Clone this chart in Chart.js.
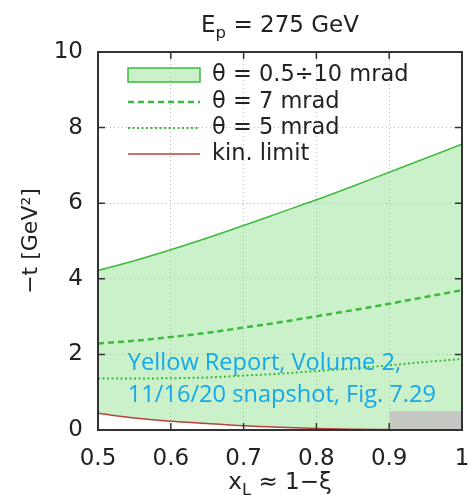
<!DOCTYPE html>
<html>
<head>
<meta charset="utf-8">
<script src="https://cdn.jsdelivr.net/npm/chart.js@4"></script>
<style>
  html, body { margin: 0; padding: 0; background: #fff; }
  #wrap { width: 469px; height: 495px; position: relative; }
</style>
</head>
<body>
<div id="wrap"><canvas id="myChart" width="469" height="495"></canvas></div>
<script>
// x_L points and -t values
const xL        = [0.5, 0.55, 0.6, 0.65, 0.7, 0.75, 0.8, 0.85, 0.9, 0.95, 1.0];
const theta10   = [4.22, 4.48, 4.77, 5.08, 5.41, 5.75, 6.09, 6.45, 6.82, 7.19, 7.56];
const theta7    = [2.29, 2.36, 2.46, 2.57, 2.71, 2.85, 3.01, 3.17, 3.34, 3.52, 3.70];
const theta5    = [1.36, 1.36, 1.37, 1.39, 1.44, 1.49, 1.56, 1.63, 1.71, 1.80, 1.88];
const kinLimit  = [0.44, 0.32, 0.23, 0.17, 0.11, 0.07, 0.04, 0.02, 0.01, 0.00, 0.00];
const greyX     = [0.9, 1.0];
const greyTop   = [0.5, 0.5];
const xTicks    = [0.5, 0.6, 0.7, 0.8, 0.9, 1.0];
const yTicks    = [0, 2, 4, 6, 8, 10];
const legendLabels = ['θ = 0.5÷10 mrad', 'θ = 7 mrad', 'θ = 5 mrad', 'kin. limit'];
const noteLines = ['Yellow Report, Volume 2,', '11/16/20 snapshot, Fig. 7.29'];

const GREEN = '#3dba3d';
const FILL = 'rgba(110,215,110,0.36)';
const RED = '#b8433a';
const FONT = '"DejaVu Sans", sans-serif';

function pts(xs, ys) { return xs.map((v, i) => ({x: v, y: ys[i]})) }

function rich(ctx, parts, cx, cy, size) {
  let w = 0
  parts.forEach(p => {
    ctx.font = (p.sub ? size * 0.72 : size) + 'px ' + FONT
    p.w = ctx.measureText(p.t).width
    w += p.w
  })
  let x = cx - w / 2
  ctx.textAlign = 'left'
  ctx.textBaseline = 'alphabetic'
  parts.forEach(p => {
    ctx.font = (p.sub ? size * 0.72 : size) + 'px ' + FONT
    ctx.fillText(p.t, x, cy + (p.sub ? size * 0.28 : 0))
    x += p.w
  })
}

const decorations = {
  id: 'decorations',
  afterDraw(chart) {
    const {ctx, chartArea: a, scales: {x, y}} = chart
    ctx.save()
    // inward ticks, both sides
    ctx.strokeStyle = '#333'
    ctx.lineWidth = 1.5
    const tl = 7
    xTicks.slice(1, -1).forEach(v => {
      const px = x.getPixelForValue(v)
      ctx.beginPath()
      ctx.moveTo(px, a.bottom); ctx.lineTo(px, a.bottom - tl)
      ctx.moveTo(px, a.top); ctx.lineTo(px, a.top + tl)
      ctx.stroke()
    })
    yTicks.slice(1, -1).forEach(v => {
      const py = y.getPixelForValue(v)
      ctx.beginPath()
      ctx.moveTo(a.left, py); ctx.lineTo(a.left + tl, py)
      ctx.moveTo(a.right, py); ctx.lineTo(a.right - tl, py)
      ctx.stroke()
    })
    // frame
    ctx.lineWidth = 2
    ctx.strokeRect(a.left, a.top, a.right - a.left, a.bottom - a.top)

    // legend
    const lx0 = a.left + 30, lx1 = a.left + 102, tx = a.left + 114
    const rows = [a.top + 23, a.top + 50, a.top + 76, a.top + 102]
    ctx.font = '22.5px ' + FONT
    ctx.textBaseline = 'middle'
    ctx.textAlign = 'left'
    ctx.fillStyle = '#222'
    legendLabels.forEach((t, i) => ctx.fillText(t, tx, rows[i]))
    ctx.fillStyle = FILL
    ctx.fillRect(lx0, rows[0] - 7, lx1 - lx0, 14)
    ctx.strokeStyle = GREEN
    ctx.lineWidth = 1.5
    ctx.strokeRect(lx0, rows[0] - 7, lx1 - lx0, 14)
    const samples = [[rows[1], GREEN, [6, 4], 2.5], [rows[2], GREEN, [2, 2.5], 2], [rows[3], RED, [], 1.5]]
    samples.forEach(s => {
      ctx.beginPath()
      ctx.setLineDash(s[2])
      ctx.strokeStyle = s[1]
      ctx.lineWidth = s[3]
      ctx.moveTo(lx0, s[0]); ctx.lineTo(lx1, s[0])
      ctx.stroke()
    })
    ctx.setLineDash([])

    // title and axis titles
    ctx.fillStyle = '#222'
    rich(ctx, [{t: 'E'}, {t: 'p', sub: 1}, {t: ' = 275 GeV'}], (a.left + a.right) / 2, 32, 23)
    rich(ctx, [{t: 'x'}, {t: 'L', sub: 1}, {t: ' ≈ 1−ξ'}], (a.left + a.right) / 2, 489, 23)
    ctx.save()
    ctx.translate(37, (a.top + a.bottom) / 2)
    ctx.rotate(-Math.PI / 2)
    rich(ctx, [{t: '−t [GeV²]'}], 0, 0, 22)
    ctx.restore()

    // note
    ctx.fillStyle = '#15a8ea'
    ctx.font = '23.6px "Open Sans", sans-serif'
    ctx.textAlign = 'left'
    ctx.textBaseline = 'middle'
    ctx.fillText(noteLines[0], x.getPixelForValue(0.541), y.getPixelForValue(1.77))
    ctx.fillText(noteLines[1], x.getPixelForValue(0.541), y.getPixelForValue(0.93))
    ctx.restore()
  }
}

new Chart(document.getElementById('myChart'), {
  type: 'line',
  data: {
    datasets: [
      {data: pts(xL, theta10), borderColor: GREEN, borderWidth: 1.5, fill: {target: 3}, backgroundColor: FILL, order: 5},
      {data: pts(xL, theta7), borderColor: GREEN, borderWidth: 2.5, borderDash: [6, 4], fill: false, order: 4},
      {data: pts(xL, theta5), borderColor: GREEN, borderWidth: 2, borderDash: [2, 2.5], fill: false, order: 3},
      {data: pts(xL, kinLimit), borderColor: RED, borderWidth: 1.5, fill: false, order: 2},
      {data: pts(greyX, greyTop), borderWidth: 0, borderColor: 'rgba(0,0,0,0)', backgroundColor: '#c6c9c3', fill: 'origin', order: 1}
    ]
  },
  options: {
    responsive: false,
    animation: false,
    layout: {padding: {top: 52, right: 7, left: 0, bottom: 0}},
    elements: {point: {radius: 0}, line: {cubicInterpolationMode: 'monotone'}},
    plugins: {legend: {display: false}, tooltip: {enabled: false}, title: {display: false}},
    scales: {
      x: {
        type: 'linear', min: 0.5, max: 1.0,
        afterFit(s) { s.height = 65; s.paddingLeft = 0; s.paddingRight = 0 },
        afterBuildTicks(s) { s.ticks = xTicks.map(v => ({value: v})) },
        ticks: {font: {size: 23, family: FONT}, color: '#222', padding: 15, maxRotation: 0,
          callback: v => String(Math.round(v * 10) / 10)},
        grid: {color: '#bbb', lineWidth: 1, drawTicks: false},
        border: {display: false, dash: [1, 3]}
      },
      y: {
        min: 0, max: 10,
        afterFit(s) { s.width = 98; s.paddingTop = 0; s.paddingBottom = 0 },
        afterBuildTicks(s) { s.ticks = yTicks.map(v => ({value: v})) },
        ticks: {font: {size: 23, family: FONT}, color: '#222', padding: 15},
        grid: {color: '#bbb', lineWidth: 1, drawTicks: false},
        border: {display: false, dash: [1, 3]}
      }
    }
  },
  plugins: [decorations]
});
</script>
</body>
</html>
